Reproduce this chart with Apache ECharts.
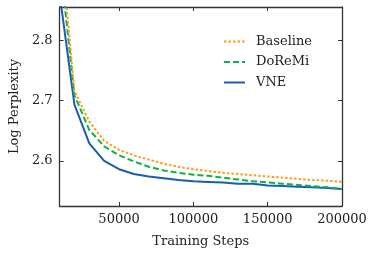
<!DOCTYPE html>
<html>
<head>
<meta charset="utf-8">
<script src="https://cdn.jsdelivr.net/npm/echarts@6/dist/echarts.min.js"></script>
<style>html,body{margin:0;padding:0;background:#fff;}#c{width:374px;height:255px;}</style>
</head>
<body>
<div id="c"></div>
<script>
const steps = [10000,20000,30000,40000,50000,60000,70000,80000,90000,100000,110000,120000,130000,140000,150000,160000,170000,180000,190000,200000];
const baseline = [2.980,2.716,2.665,2.633,2.618,2.609,2.602,2.595,2.590,2.586,2.583,2.580,2.578,2.576,2.574,2.572,2.570,2.568,2.567,2.565];
const doremi   = [2.937,2.709,2.651,2.624,2.609,2.599,2.590,2.584,2.580,2.577,2.575,2.572,2.569,2.566,2.564,2.562,2.560,2.558,2.556,2.553];
const vne      = [2.877,2.693,2.629,2.600,2.586,2.578,2.574,2.571,2.568,2.566,2.565,2.564,2.562,2.562,2.559,2.558,2.557,2.556,2.555,2.553];
const xTicks = [50000,100000,150000,200000];
const yTicks = [2.6,2.7,2.8];

const font = 'DejaVu Serif';
const axisCol = '#333';
const pair = (ys) => steps.map((s,i)=>[s,ys[i]]);

const chart = echarts.init(document.getElementById('c'), null, {renderer:'canvas'});
const tickCommon = {show:true, inside:true, length:4, lineStyle:{color:axisCol, width:1}};
chart.setOption({
  animation:false,
  backgroundColor:'#fff',
  grid:{left:57, right:32, top:7, bottom:49},
  legend:{
    left:223, top:35, orient:'vertical', padding:0,
    itemWidth:21, itemHeight:14, itemGap:7.5,
    itemStyle:{opacity:0},
    textStyle:{fontFamily:font, fontSize:13, color:'#222', padding:[0,0,0,6]},
    data:['Baseline','DoReMi','VNE']
  },
  xAxis:[{
    type:'value', min:10000, max:200000, position:'bottom',
    name:'Training Steps', nameLocation:'middle', nameGap:29,
    nameTextStyle:{fontFamily:font, fontSize:13, color:'#222'},
    axisLine:{show:true, lineStyle:{color:axisCol, width:1.3}},
    axisTick:Object.assign({customValues:xTicks}, tickCommon),
    axisLabel:{customValues:xTicks, fontFamily:font, fontSize:13, color:'#222', margin:7, formatter:v=>String(v)},
    splitLine:{show:false}
  },{
    type:'value', min:10000, max:200000, position:'top',
    axisLine:{show:true, lineStyle:{color:axisCol, width:1.3}},
    axisTick:Object.assign({customValues:xTicks}, tickCommon),
    axisLabel:{show:false},
    splitLine:{show:false}
  }],
  yAxis:[{
    type:'value', min:2.525, max:2.855, position:'left',
    name:'Log Perplexity', nameLocation:'middle', nameGap:37,
    nameTextStyle:{fontFamily:font, fontSize:13, color:'#222'},
    axisLine:{show:true, lineStyle:{color:axisCol, width:1.3}},
    axisTick:Object.assign({customValues:yTicks}, tickCommon),
    axisLabel:{customValues:yTicks, fontFamily:font, fontSize:13, color:'#222', margin:7, formatter:v=>v.toFixed(1)},
    splitLine:{show:false}
  },{
    type:'value', min:2.525, max:2.855, position:'right',
    axisLine:{show:true, lineStyle:{color:axisCol, width:1.3}},
    axisTick:Object.assign({customValues:yTicks}, tickCommon),
    axisLabel:{show:false},
    splitLine:{show:false}
  }],
  series:[
    {name:'Baseline', type:'line', data:pair(baseline), showSymbol:false, symbol:'none', clip:true,
     itemStyle:{color:'#FF9D1A'}, lineStyle:{color:'#FF9D1A', width:2, type:[2.5,2]}, z:3},
    {name:'DoReMi', type:'line', data:pair(doremi), showSymbol:false, symbol:'none', clip:true,
     itemStyle:{color:'#0DB14B'}, lineStyle:{color:'#0DB14B', width:2, type:[6,3]}, z:2},
    {name:'VNE', type:'line', data:pair(vne), showSymbol:false, symbol:'none', clip:true,
     itemStyle:{color:'#1A5EAB'}, lineStyle:{color:'#1A5EAB', width:2}, z:1}
  ]
});
</script>
</body>
</html>
